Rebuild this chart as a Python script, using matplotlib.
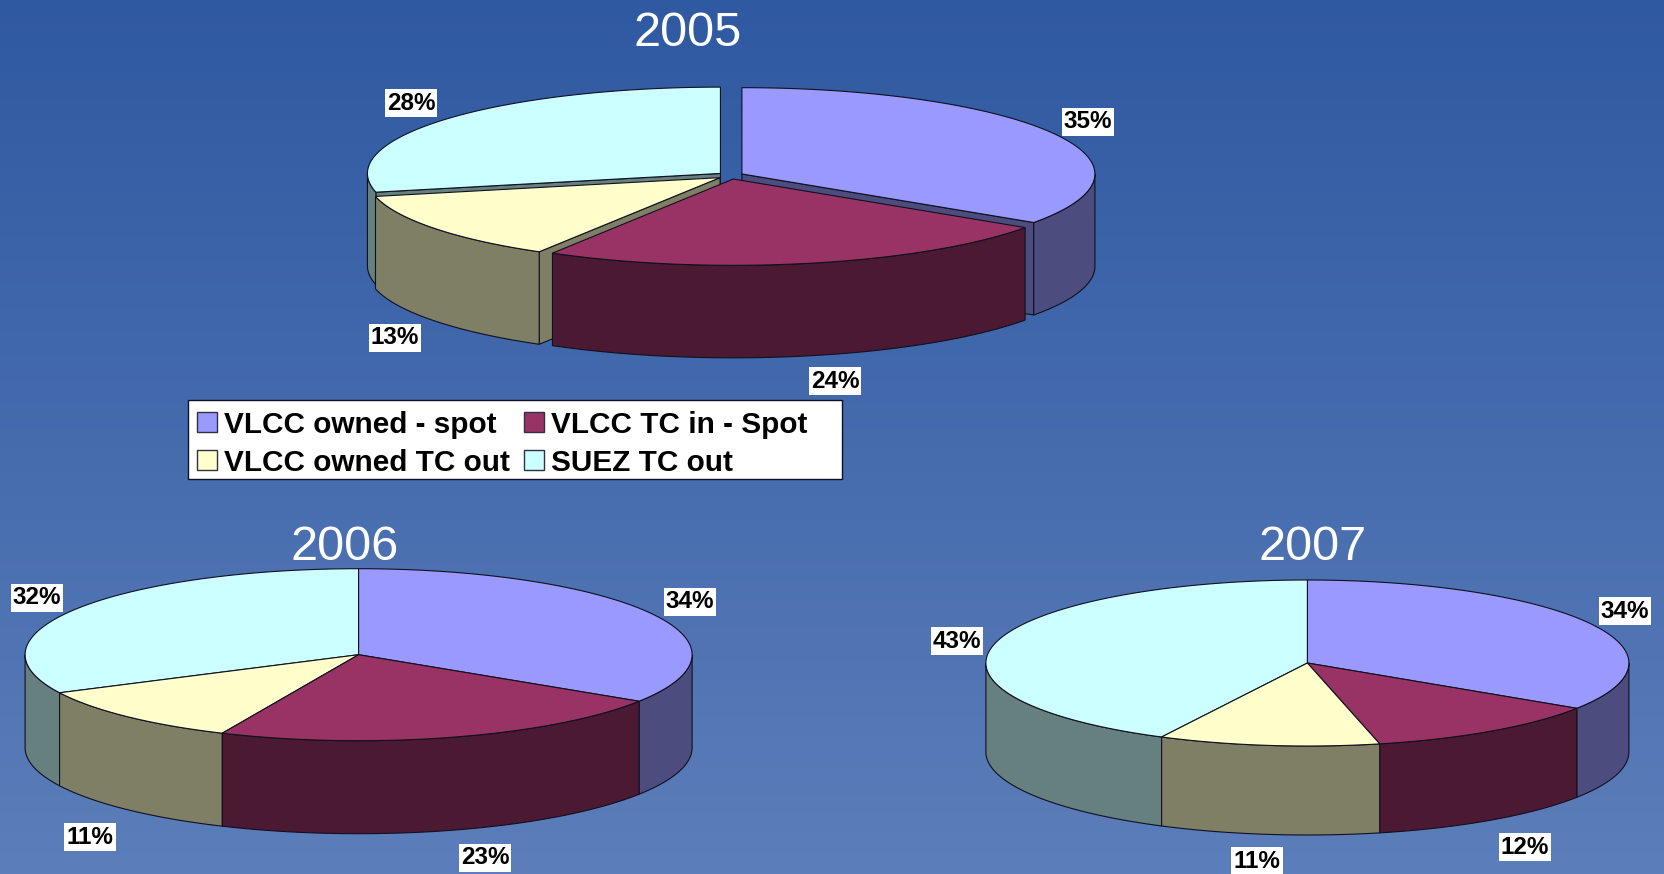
import numpy as np
import matplotlib
matplotlib.use('Agg')
import matplotlib.pyplot as plt
from matplotlib.patches import Polygon, Rectangle

plt.rcParams['font.family'] = ['Liberation Sans', 'DejaVu Sans']

# Data
categories = ["VLCC owned - spot", "VLCC TC in - Spot", "VLCC owned TC out", "SUEZ TC out"]
shares_2005 = [34.51, 24.05, 12.95, 28.49]
shares_2006 = [34.1, 22.6, 11.0, 32.3]
shares_2007 = [34.19, 12.2, 11.1, 42.51]
years = ["2005", "2006", "2007"]

# Colours for the top and the side of each slice
top_colors = ['#9999FF', '#993366', '#FFFFCC', '#CCFFFF']
side_colors = ['#4C4C7F', '#4C1933', '#7F7F66', '#667F7F']
edge = '#101020'

fig = plt.figure(figsize=(16.64, 8.74), dpi=100)
ax = fig.add_axes([0, 0, 1, 1])
ax.set_xlim(0, 1664)
ax.set_ylim(874, 0)
ax.axis('off')

# Background gradient, top to bottom
grad = np.linspace(0, 1, 256).reshape(-1, 1, 1)
c0 = np.array([47, 89, 161]) / 255
c1 = np.array([92, 126, 186]) / 255
ax.imshow(c0 + (c1 - c0) * grad, extent=(0, 1664, 874, 0), aspect='auto', zorder=0)


def rim(cx, cy, rx, ry, t0, t1):
    t = np.radians(np.linspace(t0, t1, max(int(abs(t1 - t0)), 2) + 1))
    return np.column_stack([cx + rx * np.sin(t), cy - ry * np.cos(t)])


def pie3d(values, cx, cy, rx, ry, depth, ex=0, ey=0):
    edges = np.concatenate([[0], np.cumsum(values)]) / np.sum(values) * 360
    mids = (edges[:-1] + edges[1:]) / 2
    # Paint the slices furthest from the viewer first
    for i in np.argsort(-np.abs(mids - 180)):
        t0, t1 = edges[i], edges[i + 1]
        m = np.radians(mids[i])
        x0 = cx + ex * np.sin(m)
        y0 = cy - ey * np.cos(m)
        down = np.array([0, depth])
        apex = np.array([x0, y0])

        # Cut faces that look towards the viewer
        for t, show in ((t0, np.sin(np.radians(t0)) < -1e-6), (t1, np.sin(np.radians(t1)) > 1e-6)):
            if show:
                p = rim(x0, y0, rx, ry, t, t)[0]
                ax.add_patch(Polygon([apex, p, p + down, apex + down], fc=side_colors[i], ec=edge, lw=0.8))

        # Outer wall
        a, b = max(t0, 90), min(t1, 270)
        if b > a:
            r = rim(x0, y0, rx, ry, a, b)
            ax.add_patch(Polygon(np.vstack([r, (r + down)[::-1]]), fc=side_colors[i], ec=edge, lw=0.8))

        # Top
        ax.add_patch(Polygon(np.vstack([apex, rim(x0, y0, rx, ry, t0, t1)]), fc=top_colors[i], ec=edge, lw=0.8))


def pct_labels(values, positions):
    for v, (x, y) in zip(values, positions):
        ax.text(x, y, f"{v:.0f}%", ha='center', va='center', fontsize=17.5, fontweight='bold', color='black',
                bbox=dict(fc='white', ec='none', pad=1.5), zorder=5)


pie3d(shares_2005, 730.5, 175.6, 353, 86.3, 92.5, ex=12.9, ey=3.5)
pie3d(shares_2006, 358.6, 654.7, 333.5, 86, 93)
pie3d(shares_2007, 1307.4, 663, 321.5, 83, 89)

pct_labels(shares_2005, [(1088, 122), (835, 381), (395, 338), (411, 103)])
pct_labels(shares_2006, [(690, 602), (485, 858), (90, 837), (37, 598)])
pct_labels(shares_2007, [(1625, 611), (1525, 847), (1257, 861), (957, 641)])

# Titles
for year, x, y in zip(years, [688, 345, 1313], [33, 548, 548]):
    ax.text(x, y, year, ha='center', va='center', fontsize=35, color='white', zorder=5)

# Legend
ax.add_patch(Rectangle((188, 400), 654, 79, fc='white', ec='#101020', lw=1, zorder=6))
swatch_x = [197, 197 + 326.6, 197, 197 + 326.6]
swatch_y = [412, 412, 450, 450]
order = [0, 1, 2, 3]
for i, sx, sy in zip(order, swatch_x, swatch_y):
    ax.add_patch(Rectangle((sx, sy), 20, 19.5, fc=top_colors[i], ec='#303040', lw=1, zorder=7))
    ax.text(sx + 27.5, sy + 10, categories[i], ha='left', va='center_baseline', fontsize=21.4,
            fontweight='bold', color='black', zorder=7)

fig.savefig('out.png', dpi=100)
